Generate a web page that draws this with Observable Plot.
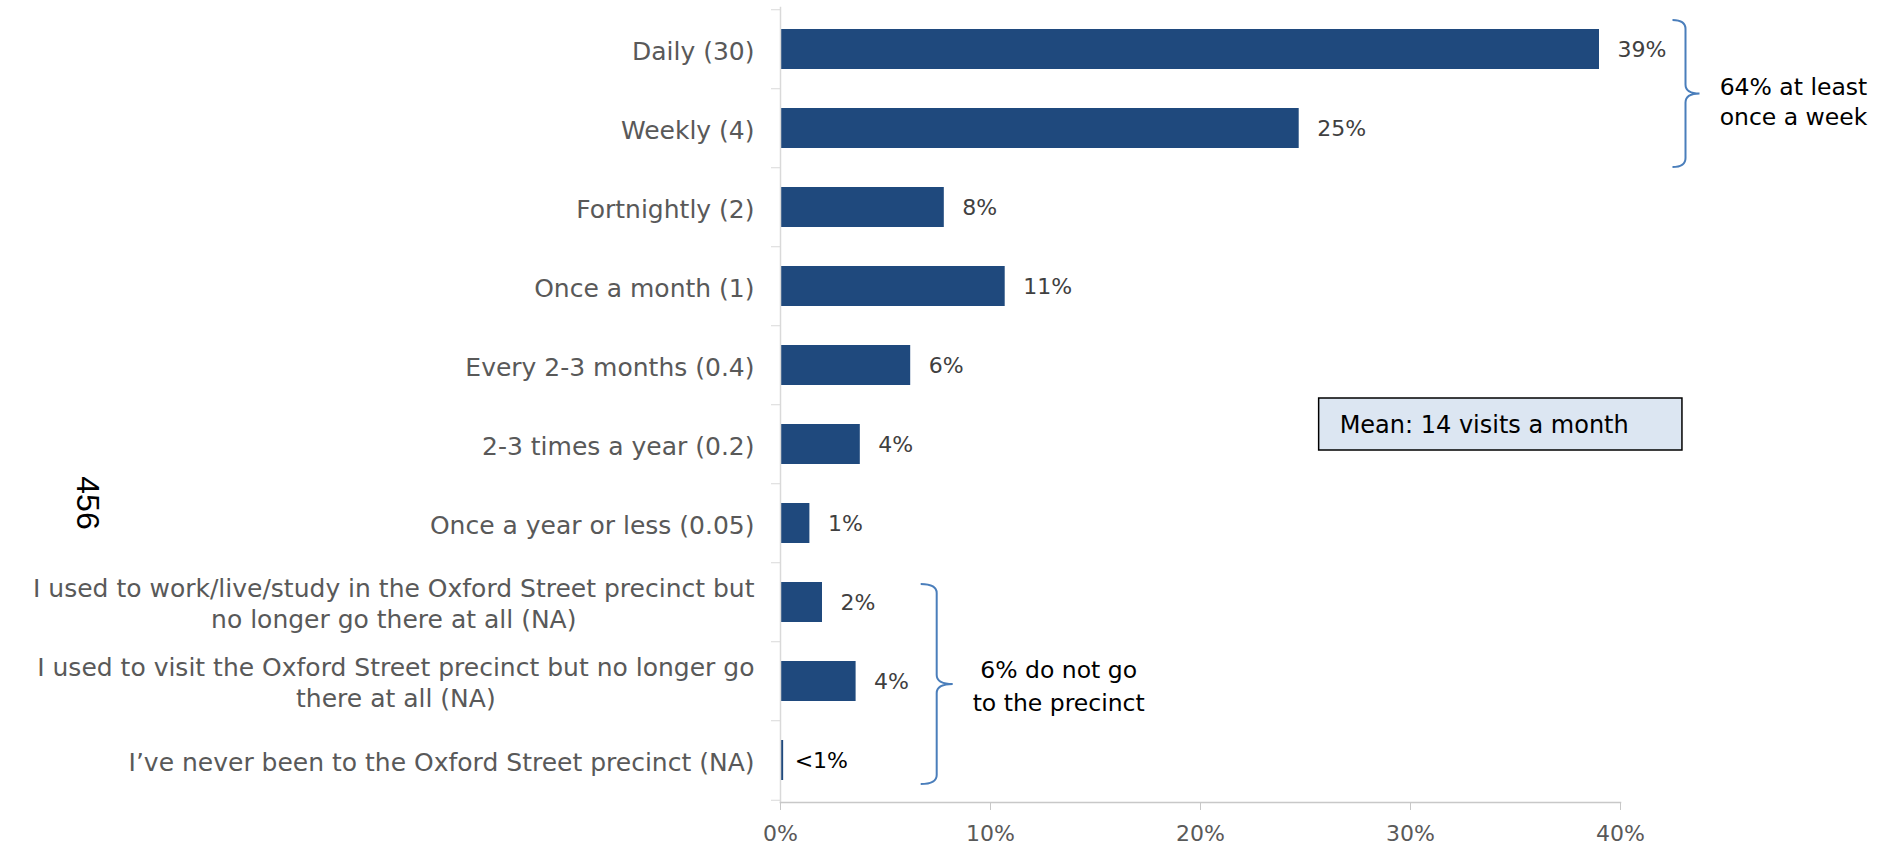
<!DOCTYPE html>
<html>
<head>
<meta charset="utf-8">
<script src="https://cdn.jsdelivr.net/npm/d3@7"></script>
<script src="https://cdn.jsdelivr.net/npm/@observablehq/plot@0.6"></script>
<style>
  html, body { margin: 0; padding: 0; background: #fff; }
  #chart { width: 1889px; height: 845px; }
</style>
</head>
<body>
<div id="chart"></div>
<script>
// ---- data ----
const categories = [
  "Daily (30)",
  "Weekly (4)",
  "Fortnightly (2)",
  "Once a month (1)",
  "Every 2-3 months (0.4)",
  "2-3 times a year (0.2)",
  "Once a year or less (0.05)",
  "I used to work/live/study in the Oxford Street precinct but\nno longer go there at all (NA)",
  "I used to visit the Oxford Street precinct but no longer go\nthere at all (NA)",
  "I\u2019ve never been to the Oxford Street precinct (NA)"
];
const values = [39.0, 24.7, 7.8, 10.7, 6.2, 3.8, 1.4, 2.0, 3.6, 0.15];
const valueLabels = ["39%", "25%", "8%", "11%", "6%", "4%", "1%", "2%", "4%", "<1%"];
const xTicks = [0, 10, 20, 30, 40];
const xTickLabels = ["0%", "10%", "20%", "30%", "40%"];
const braceGroups = [
  {first: categories[0], last: categories[1], x: 42.5, text: ["64% at least", "once a week"]},
  {first: categories[7], last: categories[9], x: 6.7, text: ["6% do not go", "to the precinct"]}
];
const meanText = "Mean: 14 visits a month";
const pageNumber = "456";

const data = categories.map((c, i) => ({category: c, value: values[i], label: valueLabels[i]}));

// ---- layout ----
const W = 1889, H = 845, mL = 780, mR = 269, mT = 7, mB = 43;
const step = (H - mT - mB) / categories.length;
const FONT = "DejaVu Sans";

const plot = Plot.plot({
  width: W, height: H,
  marginLeft: mL, marginRight: mR, marginTop: mT, marginBottom: mB,
  style: {fontFamily: FONT, background: "#fff", overflow: "visible"},
  x: {domain: [0, 40]},
  y: {domain: categories, paddingInner: 0.49, paddingOuter: 0.245},
  marks: [
    Plot.barX(data, {x: "value", y: "category", fill: "#1F497D"}),
    Plot.frame({anchor: "left", stroke: "#d9d9d9", strokeWidth: 1.5}),
    Plot.frame({anchor: "bottom", stroke: "#c8c8c8", strokeWidth: 1.5}),
    Plot.axisX({ticks: xTicks, tickFormat: (d) => xTickLabels[xTicks.indexOf(d)], tickSize: 8, tickPadding: 15,
      fontSize: 22, stroke: "#c8c8c8", fill: "#595959", label: null}),
    Plot.axisY({tickSize: 9, tickFormat: () => "", dy: -step / 2, stroke: "#d9d9d9", label: null}),
    Plot.axisY({ticks: [categories[categories.length - 1]], tickSize: 9, tickFormat: () => "", dy: step / 2,
      stroke: "#d9d9d9", label: null}),
    Plot.text(data, {x: 0, y: "category", text: "category", textAnchor: "end", dx: -26,
      fontSize: 25, lineHeight: 1.26, fill: "#595959"}),
    Plot.text(data.slice(0, -1), {x: "value", y: "category", text: "label", textAnchor: "start", dx: 18,
      fontSize: 22, fill: "#404040"}),
    Plot.text(data.slice(-1), {x: "value", y: "category", text: "label", textAnchor: "start", dx: 11,
      fontSize: 22, fill: "#000"})
  ]
});

document.getElementById("chart").appendChild(plot);

// center multi-line category labels as a block, right-aligned
const textGroups = plot.querySelectorAll('g[aria-label="text"]');
if (textGroups.length) {
  textGroups[0].querySelectorAll("text").forEach((t) => {
    const spans = t.querySelectorAll("tspan");
    if (spans.length > 1) {
      const widths = Array.from(spans, (s) => s.getComputedTextLength());
      const maxW = Math.max(...widths);
      t.setAttribute("text-anchor", "middle");
      spans.forEach((s) => {
        const x0 = parseFloat(s.getAttribute("x")) || 0;
        s.setAttribute("x", x0 - maxW / 2);
      });
    }
  });
}

// ---- annotations ----
const xs = plot.scale("x"), ys = plot.scale("y");
const bw = ys.bandwidth;
const svg = d3.select(plot);

function bracePath(x0, spine, tip, y1, y2, ym) {
  const r = 9;
  return `M${x0},${y1} Q${spine},${y1} ${spine},${y1 + r} L${spine},${ym - r} Q${spine},${ym} ${tip},${ym}` +
         ` Q${spine},${ym} ${spine},${ym + r} L${spine},${y2 - r} Q${spine},${y2} ${x0},${y2}`;
}

const braceStyle = [
  {topPad: 9, botPad: 19, spine: 13, tip: 27, textDx: 94, textDy: 8, lineGap: 30},
  {topPad: -2, botPad: 4, spine: 16, tip: 32, textDx: 106, textDy: 2, lineGap: 33}
];
braceGroups.forEach((g, i) => {
  const st = braceStyle[i];
  const x0 = xs.apply(g.x);
  const y1 = ys.apply(g.first) - st.topPad;
  const y2 = ys.apply(g.last) + bw + st.botPad;
  const ym = (y1 + y2) / 2;
  svg.append("path")
    .attr("d", bracePath(x0, x0 + st.spine, x0 + st.tip, y1, y2, ym))
    .attr("fill", "none").attr("stroke", "#4A7EBB").attr("stroke-width", 2);
  const cx = x0 + st.tip + st.textDx;
  const cy = ym + st.textDy;
  const t = svg.append("text")
    .attr("font-family", FONT).attr("font-size", 23.5).attr("fill", "#000")
    .attr("text-anchor", "middle");
  g.text.forEach((line, k) => {
    t.append("tspan").attr("x", cx)
      .attr("y", cy + (k - (g.text.length - 1) / 2) * st.lineGap + 8)
      .text(line);
  });
});

// mean box
{
  const bx = xs.apply(25.65), bx2 = xs.apply(42.95);
  const by = ys.apply(categories[5]) - 26;
  const bh = 52;
  svg.append("rect").attr("x", bx).attr("y", by).attr("width", bx2 - bx).attr("height", bh)
    .attr("fill", "#DCE6F2").attr("stroke", "#000").attr("stroke-width", 1.5);
  svg.append("text").attr("x", bx + 21).attr("y", by + bh / 2 + 9)
    .attr("text-anchor", "start")
    .attr("font-family", FONT).attr("font-size", 24).attr("fill", "#000")
    .text(meanText);
}

// page number, rotated
svg.append("text")
  .attr("transform", `translate(${88},${503}) rotate(90)`)
  .attr("text-anchor", "middle").attr("dy", "0.35em")
  .attr("font-family", "Liberation Sans").attr("font-size", 32).attr("fill", "#000")
  .text(pageNumber);
</script>
</body>
</html>
